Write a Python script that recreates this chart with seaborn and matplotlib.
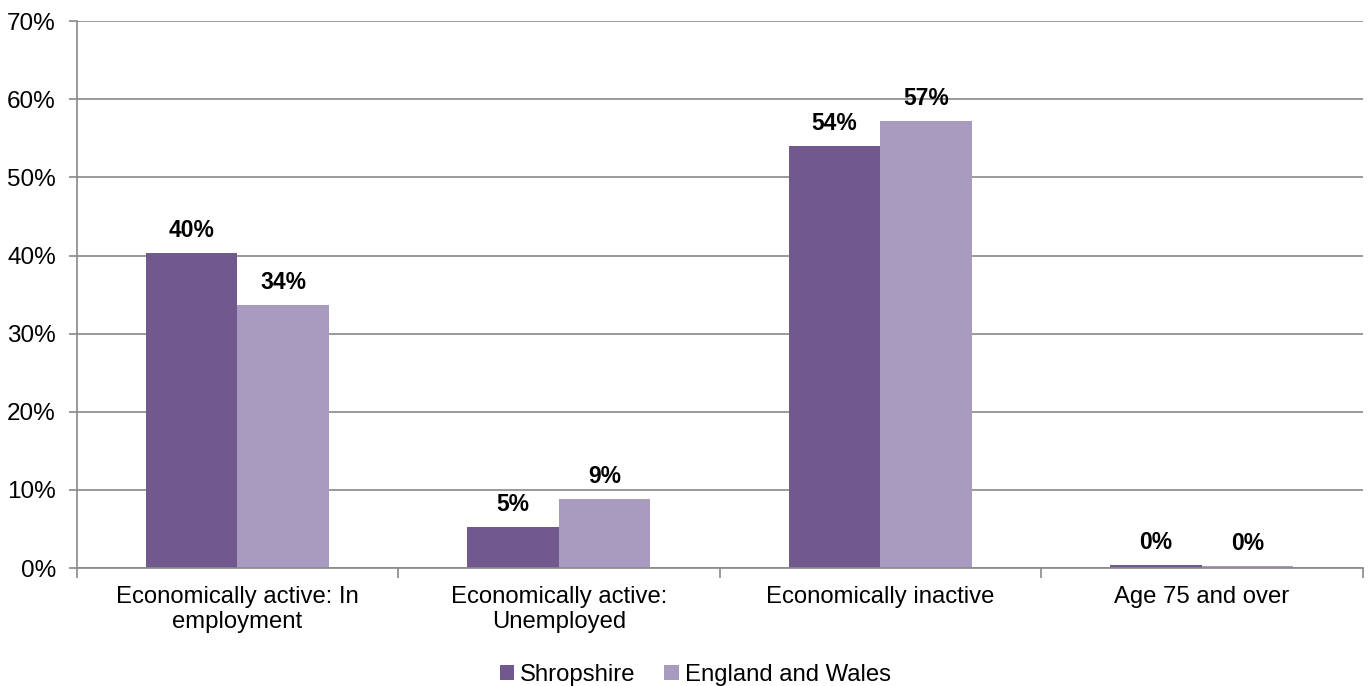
import pandas as pd
import numpy as np
import matplotlib
matplotlib.use('Agg')
import matplotlib.pyplot as plt
import seaborn as sns
from matplotlib.ticker import PercentFormatter, FixedLocator

# ==== data ====
categories = ['Economically active: In\nemployment', 'Economically active:\nUnemployed',
              'Economically inactive', 'Age 75 and over']
shropshire = [40.3, 5.2, 54.0, 0.4]
england_wales = [33.7, 8.8, 57.2, 0.3]
series_names = ['Shropshire', 'England and Wales']

df = pd.DataFrame({
    'category': categories * 2,
    'area': [series_names[0]] * 4 + [series_names[1]] * 4,
    'value': shropshire + england_wales,
})

sns.set_theme(style='white')
plt.rcParams['font.family'] = ['Liberation Sans', 'DejaVu Sans']
plt.rcParams['text.color'] = 'black'
plt.rcParams['xtick.color'] = 'black'
plt.rcParams['ytick.color'] = 'black'

fig, ax = plt.subplots(figsize=(13.68, 6.86), dpi=100)
fig.subplots_adjust(left=0.056, right=0.996, top=0.969, bottom=0.172)

palette = {'Shropshire': '#72598D', 'England and Wales': '#A99BC0'}
sns.barplot(data=df, x='category', y='value', hue='area', palette=palette,
            width=0.57, saturation=1, ax=ax, legend=True, edgecolor='none', linewidth=0)

# labels on top of bars
for cont in ax.containers:
    ax.bar_label(cont, labels=[f'{v:.0f}%' for v in cont.datavalues],
                 padding=8, fontsize=16.5, fontweight='bold', color='black')

grey = '#898989'
ax.set_ylim(0, 70)
ax.set_xlim(-0.5, 3.5)
ax.yaxis.set_major_locator(FixedLocator(np.arange(0, 71, 10)))
ax.yaxis.set_major_formatter(PercentFormatter(decimals=0))
ax.yaxis.grid(True, color=grey, linewidth=1.2)
ax.set_axisbelow(True)
ax.set_xlabel('')
ax.set_ylabel('')

for s in ['top', 'right']:
    ax.spines[s].set_visible(False)
for s in ['left', 'bottom']:
    ax.spines[s].set_color(grey)
    ax.spines[s].set_linewidth(1.2)

# ticks between categories on the x axis
ax.set_xticks([0, 1, 2, 3])
ax.set_xticklabels(categories, linespacing=1.2)
ax.xaxis.set_minor_locator(FixedLocator([-0.5, 0.5, 1.5, 2.5, 3.5]))
ax.tick_params(axis='x', which='major', length=0, labelsize=17.2, pad=13)
ax.tick_params(axis='x', which='minor', length=7, width=1.2, color=grey, bottom=True)
ax.tick_params(axis='y', which='major', left=True, length=6, width=1.2, color=grey,
               labelsize=17.5, pad=9)

ax.legend(loc='center', bbox_to_anchor=(0.481, -0.196), ncol=2, frameon=False,
          fontsize=17.2, handlelength=0.6, handleheight=0.6, handletextpad=0.25,
          columnspacing=1.2)

plt.savefig('out.png', dpi=100)
